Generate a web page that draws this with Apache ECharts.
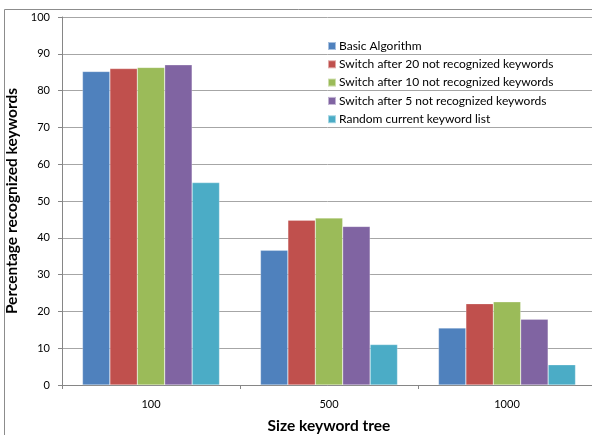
<!DOCTYPE html>
<html>
<head>
<meta charset="utf-8">
<script src="https://cdn.jsdelivr.net/npm/echarts@6/dist/echarts.min.js"></script>
<style>
  html, body { margin: 0; padding: 0; background: #fff; }
  #chart { width: 592px; height: 435px; }
</style>
</head>
<body>
<div id="chart"></div>
<script>
const categories = ["100", "500", "1000"];
const seriesNames = [
  "Basic Algorithm",
  "Switch after 20 not recognized keywords",
  "Switch after 10 not recognized keywords",
  "Switch after 5 not recognized keywords",
  "Random current keyword list",
];
const basicAlgorithm = [85.2, 36.6, 15.5];
const switchAfter20 = [86.0, 44.8, 22.1];
const switchAfter10 = [86.3, 45.4, 22.6];
const switchAfter5 = [87.0, 43.1, 17.9];
const randomList = [55.0, 11.0, 5.5];
const yTicks = [0, 10, 20, 30, 40, 50, 60, 70, 80, 90, 100];

const colors = ["#4F81BD", "#C0504D", "#9BBB59", "#8064A2", "#4BACC6"];
const values = [basicAlgorithm, switchAfter20, switchAfter10, switchAfter5, randomList];

let chartDom = document.getElementById("chart");
let myChart = echarts.init(chartDom);
let option;

const fontFamily = "Lato, 'Open Sans', sans-serif";

option = {
  animation: false,
  color: colors,
  textStyle: { fontFamily: fontFamily },
  graphic: [
    {
      type: "polyline",
      shape: { points: [[4.5, 436], [4.5, 9.5], [593, 9.5]] },
      style: { stroke: "#8c8c8c", lineWidth: 1, fill: null },
      silent: true,
    },
  ],
  legend: {
    orient: "vertical",
    left: 322,
    top: 35,
    itemWidth: 8,
    itemHeight: 8,
    itemGap: 6.3,
    icon: "rect",
    data: seriesNames,
    textStyle: { fontSize: 12, color: "#000", fontFamily: fontFamily, padding: [0, 0, 0, -2] },
  },
  grid: {
    left: 62,
    top: 17,
    right: -4,
    bottom: 50,
    containLabel: false,
    outerBoundsMode: "none",
  },
  xAxis: [
    {
      type: "category",
      data: categories,
      name: "Size keyword tree",
      nameLocation: "middle",
      nameGap: 33,
      nameTextStyle: { fontSize: 15.5, fontWeight: "bold", color: "#000" },
      axisLine: { lineStyle: { color: "#868686" } },
      axisTick: { show: true, length: 4, lineStyle: { color: "#868686" } },
      axisLabel: { fontSize: 11, color: "#000", margin: 14 },
    },
  ],
  yAxis: [
    {
      type: "value",
      min: yTicks[0],
      max: yTicks[yTicks.length - 1],
      interval: 10,
      name: "Percentage recognized keywords",
      nameLocation: "middle",
      nameGap: 35,
      nameTextStyle: { fontSize: 15.5, fontWeight: "bold", color: "#000" },
      axisLine: { show: true, lineStyle: { color: "#868686" } },
      axisTick: { show: true, length: 4, lineStyle: { color: "#868686" } },
      axisLabel: { fontSize: 11, color: "#000", margin: 12 },
      splitLine: { lineStyle: { color: "#a6a6a6" } },
    },
  ],
  series: [],
};

seriesNames.forEach((name, i) => {
  option.series.push({
    name: name,
    type: "bar",
    barGap: "0%",
    barCategoryGap: "23%",
    itemStyle: { color: colors[i], borderColor: "rgba(255,255,255,0.5)", borderWidth: 0.5 },
    data: values[i],
  });
});

option && myChart.setOption(option);
</script>
</body>
</html>
